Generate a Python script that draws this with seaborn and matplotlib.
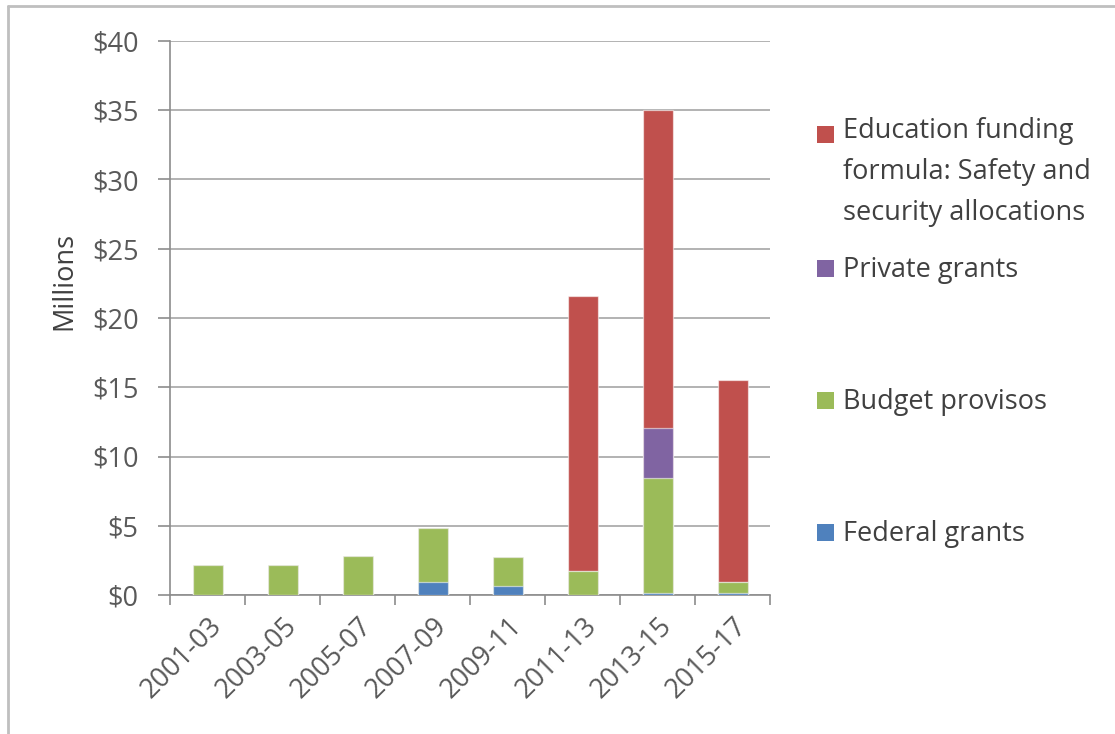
import numpy as np
import pandas as pd
import matplotlib
matplotlib.use("Agg")
import matplotlib.pyplot as plt
import seaborn as sns
from matplotlib.patches import Rectangle
from matplotlib.lines import Line2D

# ---- data (millions of dollars) ----
periods = ["2001-03", "2003-05", "2005-07", "2007-09", "2009-11", "2011-13", "2013-15", "2015-17"]
federal = [0.0, 0.0, 0.0, 0.95, 0.65, 0.0, 0.15, 0.15]
budget = [2.15, 2.15, 2.85, 3.9, 2.1, 1.75, 8.3, 0.8]
private = [0.0, 0.0, 0.0, 0.0, 0.0, 0.0, 3.6, 0.0]
education = [0.0, 0.0, 0.0, 0.0, 0.0, 19.85, 22.95, 14.6]
series_names = ["Federal grants", "Budget provisos", "Private grants",
                "Education funding\nformula: Safety and\nsecurity allocations"]
series_colors = ["#4F81BD", "#9BBB59", "#8064A2", "#C0504D"]
ytick_vals = [0, 5, 10, 15, 20, 25, 30, 35, 40]

sns.set_theme(style="white")
plt.rcParams['font.family'] = ['Open Sans', 'DejaVu Sans']

W, H = 1115, 734
FS = 19.5
fig = plt.figure(figsize=(W / 100, H / 100), dpi=100)
ax = fig.add_axes([170 / W, 1 - 595 / H, 600 / W, 554 / H])

stack = np.array([federal, budget, private, education])
cum = np.cumsum(stack, axis=0)
for i in reversed(range(len(series_names))):
    df = pd.DataFrame({"period": periods, "top": cum[i]})
    sns.barplot(data=df, x="period", y="top", color=series_colors[i], saturation=1,
                width=0.4, edgecolor=(1, 1, 1, 0.55), linewidth=0.9, ax=ax, zorder=3)

ax.set_xlim(-0.5, len(periods) - 0.5)
ax.set_ylim(0, 40)
ax.set_yticks(ytick_vals)
ax.set_yticklabels([f"${v}" for v in ytick_vals])
ax.set_axisbelow(True)
ax.yaxis.grid(True, color="#A6A6A6", linewidth=1.2)
ax.xaxis.grid(False)

for s in ["top", "right"]:
    ax.spines[s].set_visible(False)
for s in ["left", "bottom"]:
    ax.spines[s].set_color("#8C8C8C")
    ax.spines[s].set_linewidth(1.2)

ax.tick_params(axis="y", left=True, length=8.6, width=1.2, color="#8C8C8C",
               pad=14, labelsize=FS, labelcolor="#595959")
ax.tick_params(axis="x", which="major", bottom=True, length=0, pad=12,
               labelsize=FS, labelcolor="#595959")
ax.set_xticks(np.arange(-0.5, len(periods), 1), minor=True)
ax.tick_params(axis="x", which="minor", bottom=True, length=7, width=1.2, color="#8C8C8C")
for lbl in ax.get_xticklabels():
    lbl.set_rotation(45)
    lbl.set_ha("right")
    lbl.set_rotation_mode("anchor")

ax.set_xlabel("")
ax.set_ylabel("Millions", fontsize=FS, color="#404040")
ax.yaxis.set_label_coords((78 - 170) / 600, (595 - 281) / 554)

# ---- legend (Excel style, top = last series) ----
first_baselines = [541, 409, 277, 143]
line_gap = 38.5
for i in reversed(range(len(series_names))):
    yb = first_baselines[i]
    nlines = series_names[i].count("\n")
    fig.add_artist(Rectangle((817 / W, 1 - yb / H), 17 / W, 17 / H, transform=fig.transFigure,
                             facecolor=series_colors[i], edgecolor="none"))
    fig.text(843 / W, 1 - (yb + nlines * line_gap) / H, series_names[i], fontsize=FS,
             color="#404040", va="baseline", ha="left", linespacing=1.62)

# outer chart border (top and left visible)
fig.add_artist(Line2D([8 / W, 8 / W], [0, 1 - 6 / H], color="#BFBFBF", lw=2, transform=fig.transFigure))
fig.add_artist(Line2D([8 / W, 1], [1 - 6 / H, 1 - 6 / H], color="#BFBFBF", lw=2, transform=fig.transFigure))

fig.savefig("out.png", dpi=100)
